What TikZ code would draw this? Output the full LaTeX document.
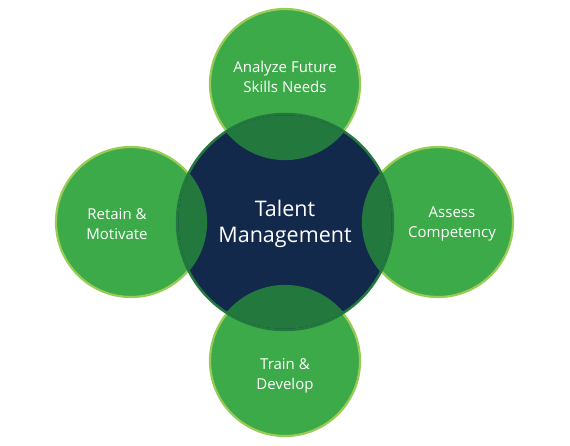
\documentclass[tikz,border=0pt]{standalone}
\usepackage{fontspec}
\setmainfont{Open Sans}
\definecolor{navy}{HTML}{13294B}
\definecolor{leaf}{HTML}{3DAA4A}
\definecolor{lightleaf}{HTML}{98CC55}
\definecolor{deepleaf}{HTML}{23793D}
\begin{document}
\begin{tikzpicture}[x=1pt,y=-1pt,
  sat/.style={circle,fill=leaf,draw=lightleaf,line width=2.2pt,minimum size=150pt,inner sep=0pt},
  hub/.style={circle,fill=navy,draw=deepleaf,line width=2.5pt,minimum size=216pt,inner sep=0pt},
  lab/.style={text=white,font=\fontsize{15}{19.5}\selectfont,align=center},
  hublab/.style={text=white,font=\fontsize{21.5}{26}\selectfont,align=center}]
\useasboundingbox (0,0) rectangle (570,445);
\node[sat] (top) at (285,84) {};
\node[sat] (right) at (438,222) {};
\node[sat] (left) at (131,222) {};
\node[sat] (bottom) at (285,361) {};
\node[hub] (hub) at (285,222) {};
\begin{scope}
  \clip (285,222) circle (106.75pt);
  \foreach \p in {(285,84),(438,222),(131,222),(285,361)}
    \fill[deepleaf] \p circle (76.1pt);
\end{scope}
\node[hublab] (hubtext) at (285,224) {Talent\\Management};
\node[lab] (toptext) at (285,77) {Analyze Future\\Skills Needs};
\node[lab] (righttext) at (452,224) {Assess\\Competency};
\node[lab] (lefttext) at (117,224) {Retain \&\\Motivate};
\node[lab] (bottomtext) at (285,376) {Train \&\\Develop};
\end{tikzpicture}
\end{document}
